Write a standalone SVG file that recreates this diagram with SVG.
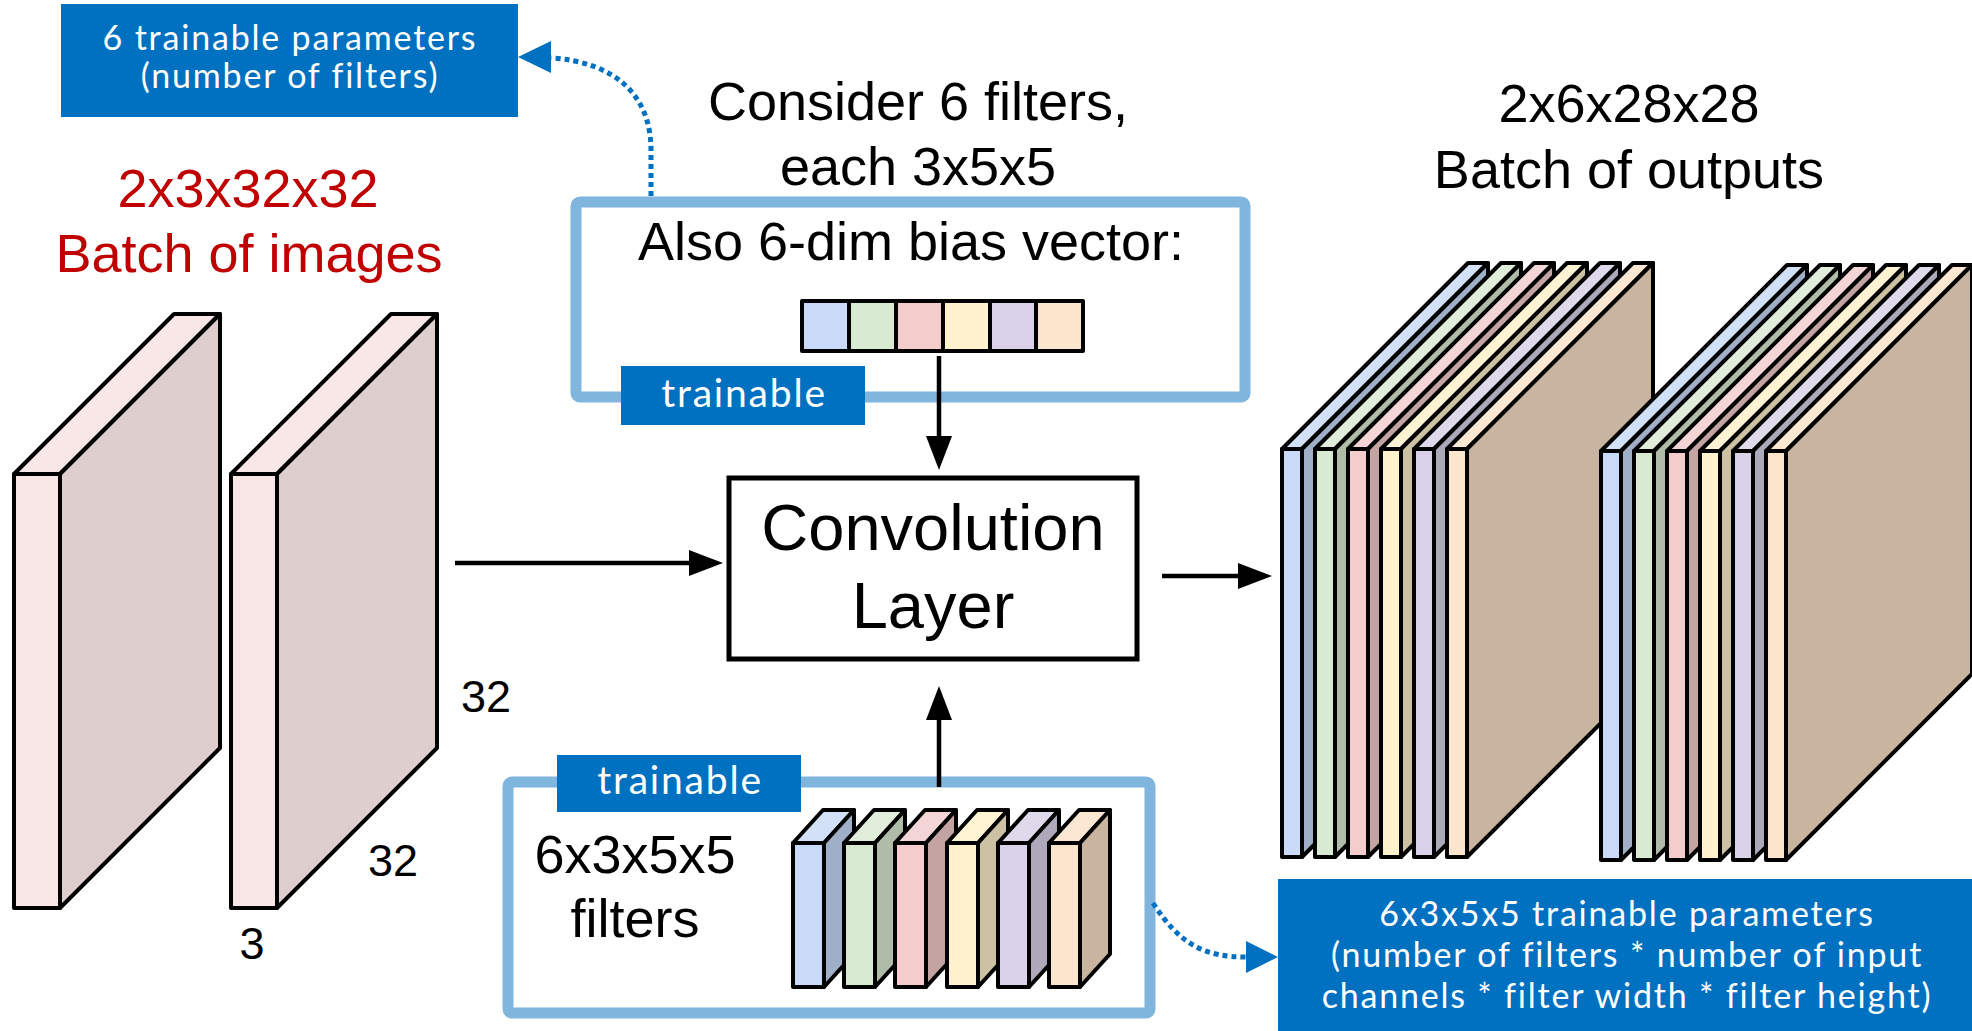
<svg xmlns="http://www.w3.org/2000/svg" width="1972" height="1031" viewBox="0 0 1972 1031">
<style>
.bl{font-family:"Liberation Sans",Arial,sans-serif;fill:#000;text-anchor:middle}
.red{font-family:"Liberation Sans",Arial,sans-serif;fill:#C00000;text-anchor:middle;font-size:54px}
.wt{font-family:Lato,"Open Sans",sans-serif;fill:#fff;text-anchor:middle;letter-spacing:1.8px}
.lab{fill:#0070C0}
.frame{fill:#fff;stroke:#80B5DE;stroke-width:11}
.k{stroke:#000;stroke-width:4;stroke-linejoin:round}
.arr{stroke:#000;stroke-width:4.5;fill:none}
.dot{stroke:#0070C0;stroke-width:5;fill:none;stroke-dasharray:5 4}
.pf{fill:#F9E6E6}.ps{fill:#DECECE}
.bf{fill:#C9DAF8}.bs{fill:#A0AFC8}.bt{fill:#D3E1F8}
.gf{fill:#D9EAD3}.gs{fill:#AEBCA8}.gt{fill:#DFEDDA}
.rf{fill:#F4CCCC}.rs{fill:#C4A3A3}.rt{fill:#F3D5D5}
.yf{fill:#FFF2CC}.ys{fill:#CCC2A3}.yt{fill:#FFF3D3}
.lf{fill:#D9D2E9}.ls{fill:#ADA8BA}.lt{fill:#DEDAEC}
.of{fill:#FCE5CD}.os{fill:#C9B4A0}.ot{fill:#FCE7D3}
</style>
<defs>
<marker id="ah" markerUnits="userSpaceOnUse" markerWidth="34" markerHeight="26" refX="0" refY="13" orient="auto">
<path d="M0,0 L34,13 L0,26 z" fill="#000"/>
</marker>
</defs>
<rect width="1972" height="1031" fill="#fff"/>

<!-- titles -->
<g id="title-input">
<text class="red" x="248" y="207">2x3x32x32</text>
<text class="red" x="249" y="272">Batch of images</text>
</g>
<g id="title-filters">
<text class="bl" x="918" y="120" font-size="54">Consider 6 filters,</text>
<text class="bl" x="918" y="185" font-size="54">each 3x5x5</text>
</g>
<g id="title-output">
<text class="bl" x="1629" y="122" font-size="54">2x6x28x28</text>
<text class="bl" x="1629" y="188" font-size="54">Batch of outputs</text>
</g>

<!-- top label -->
<g id="label-bias-params">
<rect class="lab" x="61" y="4" width="457" height="113"/>
<text class="wt" x="290" y="50" font-size="34">6 trainable parameters</text>
<text class="wt" x="290" y="88" font-size="34">(number of filters)</text>
</g>

<!-- bias box -->
<g id="bias-box">
<rect class="frame" x="576" y="202" width="669" height="195" rx="4"/>
<text class="bl" x="911" y="260" font-size="54">Also 6-dim bias vector:</text>
<g class="k">
<rect class="bf" x="802" y="301" width="47" height="50"/>
<rect class="gf" x="849" y="301" width="47" height="50"/>
<rect class="rf" x="896" y="301" width="47" height="50"/>
<rect class="yf" x="943" y="301" width="47" height="50"/>
<rect class="lf" x="990" y="301" width="46" height="50"/>
<rect class="of" x="1036" y="301" width="47" height="50"/>
</g>
<rect class="lab" x="621" y="366" width="244" height="59"/>
<text class="wt" x="744" y="407" font-size="39">trainable</text>
</g>

<!-- input images -->
<g id="input-images" class="k">
<polygon class="pf" points="14,474 174,314 220,314 60,474"/>
<polygon class="ps" points="60,474 220,314 220,748 60,908"/>
<rect class="pf" x="14" y="474" width="46" height="434"/>
<polygon class="pf" points="231,474 391,314 437,314 277,474"/>
<polygon class="ps" points="277,474 437,314 437,748 277,908"/>
<rect class="pf" x="231" y="474" width="46" height="434"/>
</g>
<g id="input-dims">
<text class="bl" x="486" y="712" font-size="45">32</text>
<text class="bl" x="393" y="876" font-size="45">32</text>
<text class="bl" x="252" y="959" font-size="45">3</text>
</g>

<!-- convolution layer -->
<g id="conv-layer">
<rect x="729" y="478" width="408" height="181" fill="#fff" stroke="#000" stroke-width="5"/>
<text class="bl" x="933" y="550" font-size="65">Convolution</text>
<text class="bl" x="933" y="628" font-size="65">Layer</text>
</g>

<!-- filter box -->
<g id="filter-box">
<rect class="frame" x="508" y="782" width="642" height="231" rx="4"/>
<text class="bl" x="635" y="873" font-size="54">6x3x5x5</text>
<text class="bl" x="635" y="937" font-size="54">filters</text>
<g class="k">
<polygon class="bt" points="793,843 823,810 854,810 824,843"/>
<polygon class="bs" points="824,843 854,810 854,954 824,987"/>
<rect class="bf" x="793" y="843" width="31" height="144"/>
<polygon class="gt" points="844,843 874,810 905,810 875,843"/>
<polygon class="gs" points="875,843 905,810 905,954 875,987"/>
<rect class="gf" x="844" y="843" width="31" height="144"/>
<polygon class="rt" points="895,843 925,810 956,810 926,843"/>
<polygon class="rs" points="926,843 956,810 956,954 926,987"/>
<rect class="rf" x="895" y="843" width="31" height="144"/>
<polygon class="yt" points="947,843 977,810 1008,810 978,843"/>
<polygon class="ys" points="978,843 1008,810 1008,954 978,987"/>
<rect class="yf" x="947" y="843" width="31" height="144"/>
<polygon class="lt" points="998,843 1028,810 1059,810 1029,843"/>
<polygon class="ls" points="1029,843 1059,810 1059,954 1029,987"/>
<rect class="lf" x="998" y="843" width="31" height="144"/>
<polygon class="ot" points="1049,843 1079,810 1110,810 1080,843"/>
<polygon class="os" points="1080,843 1110,810 1110,954 1080,987"/>
<rect class="of" x="1049" y="843" width="31" height="144"/>
</g>
<rect class="lab" x="557" y="755" width="244" height="57"/>
<text class="wt" x="680" y="794" font-size="39">trainable</text>
</g>

<!-- output stack 1 -->
<g id="output-1" class="k">
<polygon class="bt" points="1282,449 1468,263 1488,263 1302,449"/>
<polygon class="bs" points="1302,449 1488,263 1488,671 1302,857"/>
<rect class="bf" x="1282" y="449" width="20" height="408"/>
<polygon class="gt" points="1315,449 1501,263 1521,263 1335,449"/>
<polygon class="gs" points="1335,449 1521,263 1521,671 1335,857"/>
<rect class="gf" x="1315" y="449" width="20" height="408"/>
<polygon class="rt" points="1348,449 1534,263 1554,263 1368,449"/>
<polygon class="rs" points="1368,449 1554,263 1554,671 1368,857"/>
<rect class="rf" x="1348" y="449" width="20" height="408"/>
<polygon class="yt" points="1381,449 1567,263 1587,263 1401,449"/>
<polygon class="ys" points="1401,449 1587,263 1587,671 1401,857"/>
<rect class="yf" x="1381" y="449" width="20" height="408"/>
<polygon class="lt" points="1414,449 1600,263 1620,263 1434,449"/>
<polygon class="ls" points="1434,449 1620,263 1620,671 1434,857"/>
<rect class="lf" x="1414" y="449" width="20" height="408"/>
<polygon class="ot" points="1447,449 1633,263 1653,263 1467,449"/>
<polygon class="os" points="1467,449 1653,263 1653,671 1467,857"/>
<rect class="of" x="1447" y="449" width="20" height="408"/>
</g>

<!-- output stack 2 -->
<g id="output-2" class="k">
<polygon class="bt" points="1601,451 1787,265 1807,265 1621,451"/>
<polygon class="bs" points="1621,451 1807,265 1807,674 1621,860"/>
<rect class="bf" x="1601" y="451" width="20" height="409"/>
<polygon class="gt" points="1634,451 1820,265 1840,265 1654,451"/>
<polygon class="gs" points="1654,451 1840,265 1840,674 1654,860"/>
<rect class="gf" x="1634" y="451" width="20" height="409"/>
<polygon class="rt" points="1667,451 1853,265 1873,265 1687,451"/>
<polygon class="rs" points="1687,451 1873,265 1873,674 1687,860"/>
<rect class="rf" x="1667" y="451" width="20" height="409"/>
<polygon class="yt" points="1700,451 1886,265 1906,265 1720,451"/>
<polygon class="ys" points="1720,451 1906,265 1906,674 1720,860"/>
<rect class="yf" x="1700" y="451" width="20" height="409"/>
<polygon class="lt" points="1733,451 1919,265 1939,265 1753,451"/>
<polygon class="ls" points="1753,451 1939,265 1939,674 1753,860"/>
<rect class="lf" x="1733" y="451" width="20" height="409"/>
<polygon class="ot" points="1766,451 1952,265 1972,265 1786,451"/>
<polygon class="os" points="1786,451 1972,265 1972,674 1786,860"/>
<rect class="of" x="1766" y="451" width="20" height="409"/>
</g>

<!-- bottom-right label -->
<g id="label-filter-params">
<rect class="lab" x="1278" y="879" width="694" height="152"/>
<text class="wt" x="1627" y="926" font-size="34">6x3x5x5 trainable parameters</text>
<text class="wt" x="1627" y="967" font-size="34">(number of filters * number of input</text>
<text class="wt" x="1627" y="1008" font-size="34">channels * filter width * filter height)</text>
</g>

<!-- connectors -->
<g id="connectors">
<line class="arr" x1="455" y1="563" x2="689" y2="563" marker-end="url(#ah)"/>
<line class="arr" x1="1162" y1="576" x2="1238" y2="576" marker-end="url(#ah)"/>
<line class="arr" x1="939" y1="356" x2="939" y2="436" marker-end="url(#ah)"/>
<line class="arr" x1="939" y1="787" x2="939" y2="720" marker-end="url(#ah)"/>
<path class="dot" d="M651,196 L651,150 C651,95 615,62 551,58"/>
<polygon fill="#0070C0" points="518,57 551,41 551,73"/>
<path class="dot" d="M1153,903 C1180,945 1205,957 1246,957"/>
<polygon fill="#0070C0" points="1278,957 1246,941 1246,973"/>
</g>
</svg>
